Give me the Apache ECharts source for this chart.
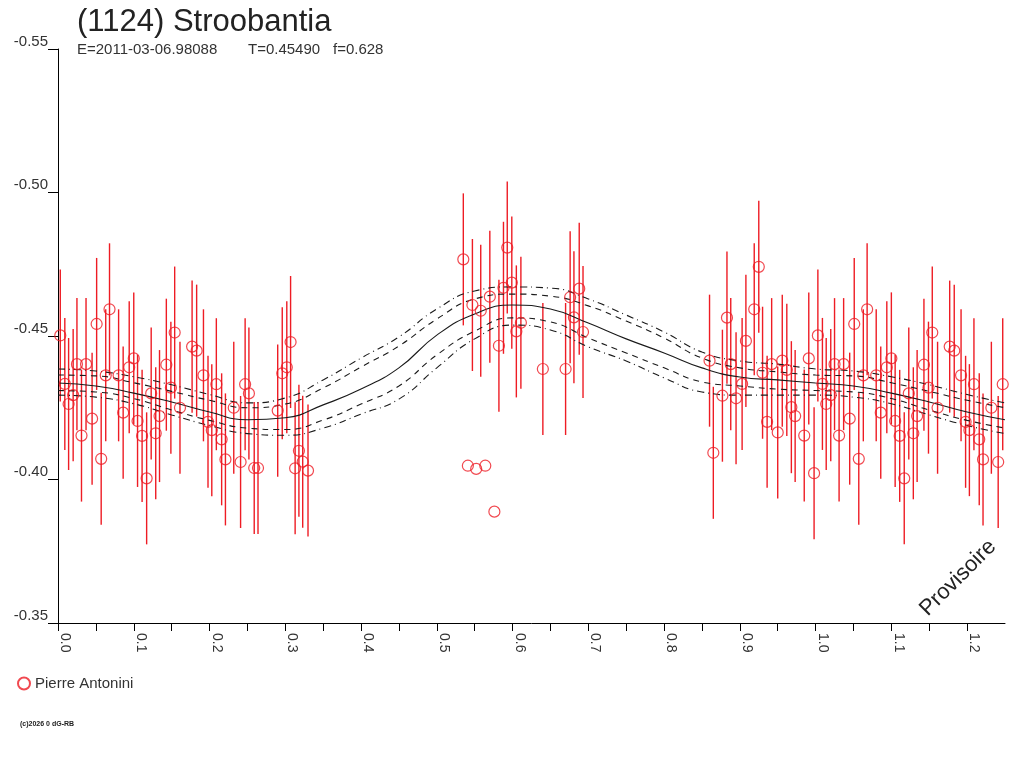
<!DOCTYPE html>
<html>
<head>
<meta charset="utf-8">
<title>(1124) Stroobantia</title>
<script src="https://cdn.jsdelivr.net/npm/echarts@6/dist/echarts.min.js"></script>
<style>
  html, body { margin: 0; padding: 0; background: #fff; }
  #chart { width: 1024px; height: 768px; }
</style>
</head>
<body>
<div id="chart"></div>
<script>
const obsPhase = [
  0.003, 0.009, 0.014, 0.020, 0.025, 0.031, 0.037, 0.045, 0.051, 0.057, 0.063, 0.068,
  0.080, 0.086, 0.094, 0.100, 0.105, 0.111, 0.117, 0.123, 0.129, 0.134, 0.143, 0.149,
  0.154, 0.161, 0.177, 0.183, 0.192, 0.198, 0.203, 0.209, 0.216, 0.221, 0.232, 0.241,
  0.247, 0.252, 0.259, 0.264, 0.290, 0.296, 0.302, 0.307, 0.313, 0.318, 0.323, 0.330,
  0.535, 0.547, 0.558, 0.570, 0.582, 0.588, 0.593, 0.599, 0.605, 0.611, 0.640, 0.670,
  0.676, 0.681, 0.688, 0.693,
  0.860, 0.865, 0.877, 0.883, 0.888, 0.895, 0.903, 0.908, 0.919, 0.925, 0.930, 0.936,
  0.942, 0.950, 0.956, 0.962, 0.968, 0.973, 0.985, 0.991, 0.998
];
const obsMag = [
  -0.4502, -0.4333, -0.4263, -0.4294, -0.4402, -0.4153, -0.4402, -0.4212, -0.4542, -0.4072, -0.4363, -0.4593,
  -0.4363, -0.4233, -0.4391, -0.4422, -0.4204, -0.4152, -0.4004, -0.4300, -0.4161, -0.4221, -0.4400, -0.4320,
  -0.4512, -0.4250, -0.4463, -0.4449, -0.4363, -0.4201, -0.4172, -0.4332, -0.4140, -0.4070, -0.4250, -0.4061,
  -0.4332, -0.4300, -0.4040, -0.4040, -0.4240, -0.4370, -0.4391, -0.4479, -0.4039, -0.4100, -0.4062, -0.4031,
  -0.4767, -0.4608, -0.4588, -0.4637, -0.4466, -0.4668, -0.4808, -0.4686, -0.4516, -0.4546, -0.4385, -0.4385,
  -0.4635, -0.4565, -0.4665, -0.4514,
  -0.4414, -0.4093, -0.4292, -0.4564, -0.4402, -0.4283, -0.4333, -0.4483, -0.4593, -0.4741, -0.4372, -0.4201,
  -0.4402, -0.4164, -0.4414, -0.4382, -0.4252, -0.4221, -0.4153, -0.4422, -0.4022
];
const obsErr = 0.023;

// points plotted without error bar
const freePhase = [0.541, 0.552, 0.564, 0.576];
const freeMag = [-0.4048, -0.4037, -0.4048, -0.3888];

// fitted curve and its envelopes
const fitPhase = [
  0.00, 0.05, 0.10, 0.15, 0.20, 0.25, 0.30, 0.35, 0.40, 0.45, 0.50, 0.55, 0.60,
  0.65, 0.70, 0.75, 0.80, 0.85, 0.90, 0.95, 1.00, 1.05, 1.10, 1.15, 1.20, 1.25
];
const fitMain = [
  -0.4336, -0.4326, -0.4301, -0.4270, -0.4235, -0.4208, -0.4215, -0.4260, -0.4315, -0.4389, -0.4503, -0.4577, -0.4608,
  -0.4594, -0.4545, -0.4490, -0.4441, -0.4389, -0.4357, -0.4347, -0.4336, -0.4326, -0.4301, -0.4270, -0.4235, -0.4208
];
const fitUpIn = [
  -0.4364, -0.4361, -0.4337, -0.4307, -0.4276, -0.4250, -0.4263, -0.4319, -0.4392, -0.4465, -0.4559, -0.4629, -0.4646,
  -0.4639, -0.4605, -0.4552, -0.4493, -0.4423, -0.4389, -0.4375, -0.4364, -0.4361, -0.4337, -0.4307, -0.4276, -0.4250
];
const fitLowIn = [
  -0.4310, -0.4305, -0.4282, -0.4242, -0.4206, -0.4179, -0.4174, -0.4207, -0.4263, -0.4326, -0.4434, -0.4517, -0.4563,
  -0.4549, -0.4493, -0.4441, -0.4389, -0.4340, -0.4326, -0.4315, -0.4310, -0.4305, -0.4282, -0.4242, -0.4206, -0.4179
];
const fitUpOut = [
  -0.4385, -0.4378, -0.4358, -0.4330, -0.4296, -0.4267, -0.4284, -0.4347, -0.4423, -0.4497, -0.4594, -0.4657, -0.4671,
  -0.4667, -0.4629, -0.4573, -0.4514, -0.4444, -0.4413, -0.4402, -0.4385, -0.4378, -0.4358, -0.4330, -0.4296, -0.4267
];
const fitLowOut = [
  -0.4294, -0.4287, -0.4264, -0.4225, -0.4188, -0.4160, -0.4154, -0.4179, -0.4228, -0.4280, -0.4389, -0.4490, -0.4538,
  -0.4521, -0.4462, -0.4413, -0.4354, -0.4305, -0.4294, -0.4294, -0.4294, -0.4287, -0.4264, -0.4225, -0.4188, -0.4160
];

const xTicks = { min: 0, max: 1.25, step: 0.05 };
const yTicks = { min: -0.55, max: -0.35, step: 0.05 };

const FONT = "'Liberation Sans', Arial, sans-serif";
const RED = "#ee1c24";
const INK = "#1a1a1a";

// phase diagram: the first quarter of the cycle is repeated after 1.0
function wrap(ph, mg) {
  const out = [];
  ph.forEach((p, i) => {
    out.push([p, mg[i]]);
    if (p + 1 <= xTicks.max) out.push([p + 1, mg[i]]);
  });
  return out;
}
const barPts = wrap(obsPhase, obsMag);
const allPts = barPts.concat(wrap(freePhase, freeMag));

function curve(vals) {
  return fitPhase.map((p, i) => [p, vals[i]]);
}

function fitLine(vals, type) {
  return {
    type: "line",
    data: curve(vals),
    symbol: "none",
    smooth: 0.5,
    silent: true,
    lineStyle: { color: INK, width: 1.1, type: type }
  };
}

const chart = echarts.init(document.getElementById("chart"));
chart.setOption({
  animation: false,
  backgroundColor: "#fff",
  textStyle: { fontFamily: FONT },
  grid: { left: 58, right: 19, top: 49, bottom: 145 },
  legend: {
    data: ["Pierre Antonini"],
    left: 12,
    top: 671,
    itemWidth: 12,
    itemHeight: 12,
    itemGap: 4,
    textStyle: { fontSize: 15, color: "#333", fontFamily: FONT }
  },
  xAxis: {
    type: "value",
    min: xTicks.min,
    max: xTicks.max,
    interval: xTicks.step,
    splitLine: { show: false },
    axisLine: { show: true, onZero: false, lineStyle: { color: "#000", width: 1 } },
    axisTick: { show: true, length: 8, lineStyle: { color: "#000" } },
    axisLabel: {
      rotate: -90,
      margin: 10,
      align: "left",
      verticalAlign: "bottom",
      fontSize: 14,
      color: "#333",
      fontFamily: FONT,
      showMaxLabel: false,
      formatter: v => (Math.round(v * 100) % 10 === 0 ? v.toFixed(1) : "")
    }
  },
  yAxis: {
    type: "value",
    inverse: true,
    min: yTicks.min,
    max: yTicks.max,
    interval: yTicks.step,
    splitLine: { show: false },
    axisLine: { show: true, onZero: false, lineStyle: { color: "#000", width: 1 } },
    axisTick: { show: true, length: 10, lineStyle: { color: "#000" } },
    axisLabel: {
      margin: 10,
      verticalAlign: "bottom",
      fontSize: 15,
      color: "#333",
      fontFamily: FONT,
      formatter: v => v.toFixed(2)
    }
  },
  series: [
    {
      type: "custom",
      name: "err",
      silent: true,
      data: barPts,
      renderItem: (params, api) => {
        const x = api.value(0);
        const y = api.value(1);
        const a = api.coord([x, y - obsErr]);
        const b = api.coord([x, y + obsErr]);
        return {
          type: "line",
          shape: { x1: a[0], y1: a[1], x2: b[0], y2: b[1] },
          style: { stroke: RED, lineWidth: 1.4 }
        };
      }
    },
    fitLine(fitUpOut, [7, 4, 1, 4]),
    fitLine(fitUpIn, [6, 5]),
    fitLine(fitMain, "solid"),
    fitLine(fitLowIn, [6, 5]),
    fitLine(fitLowOut, [7, 4, 1, 4]),
    {
      type: "scatter",
      name: "Pierre Antonini",
      data: allPts,
      symbol: "circle",
      symbolSize: 11,
      itemStyle: { color: "rgba(255,255,255,0)", borderColor: RED, borderWidth: 1.2 },
      z: 5
    }
  ],
  graphic: [
    {
      type: "text",
      left: 77,
      top: 7,
      style: { text: "(1124) Stroobantia", font: "31px " + FONT, fill: "#222" }
    },
    {
      type: "text",
      left: 77,
      top: 42,
      style: { text: "E=2011-03-06.98088", font: "15px " + FONT, fill: "#333" }
    },
    {
      type: "text",
      left: 248,
      top: 42,
      style: { text: "T=0.45490", font: "15px " + FONT, fill: "#333" }
    },
    {
      type: "text",
      left: 333,
      top: 42,
      style: { text: "f=0.628", font: "15px " + FONT, fill: "#333" }
    },
    {
      type: "text",
      x: 958,
      y: 578,
      rotation: Math.PI / 4,
      style: {
        text: "Provisoire",
        font: "22px " + FONT,
        fill: "#222",
        align: "center",
        verticalAlign: "middle"
      }
    },
    {
      type: "text",
      left: 20,
      top: 721,
      style: { text: "(c)2026 0 dG-RB", font: "bold 7px " + FONT, fill: "#222" }
    }
  ]
});
</script>
</body>
</html>
